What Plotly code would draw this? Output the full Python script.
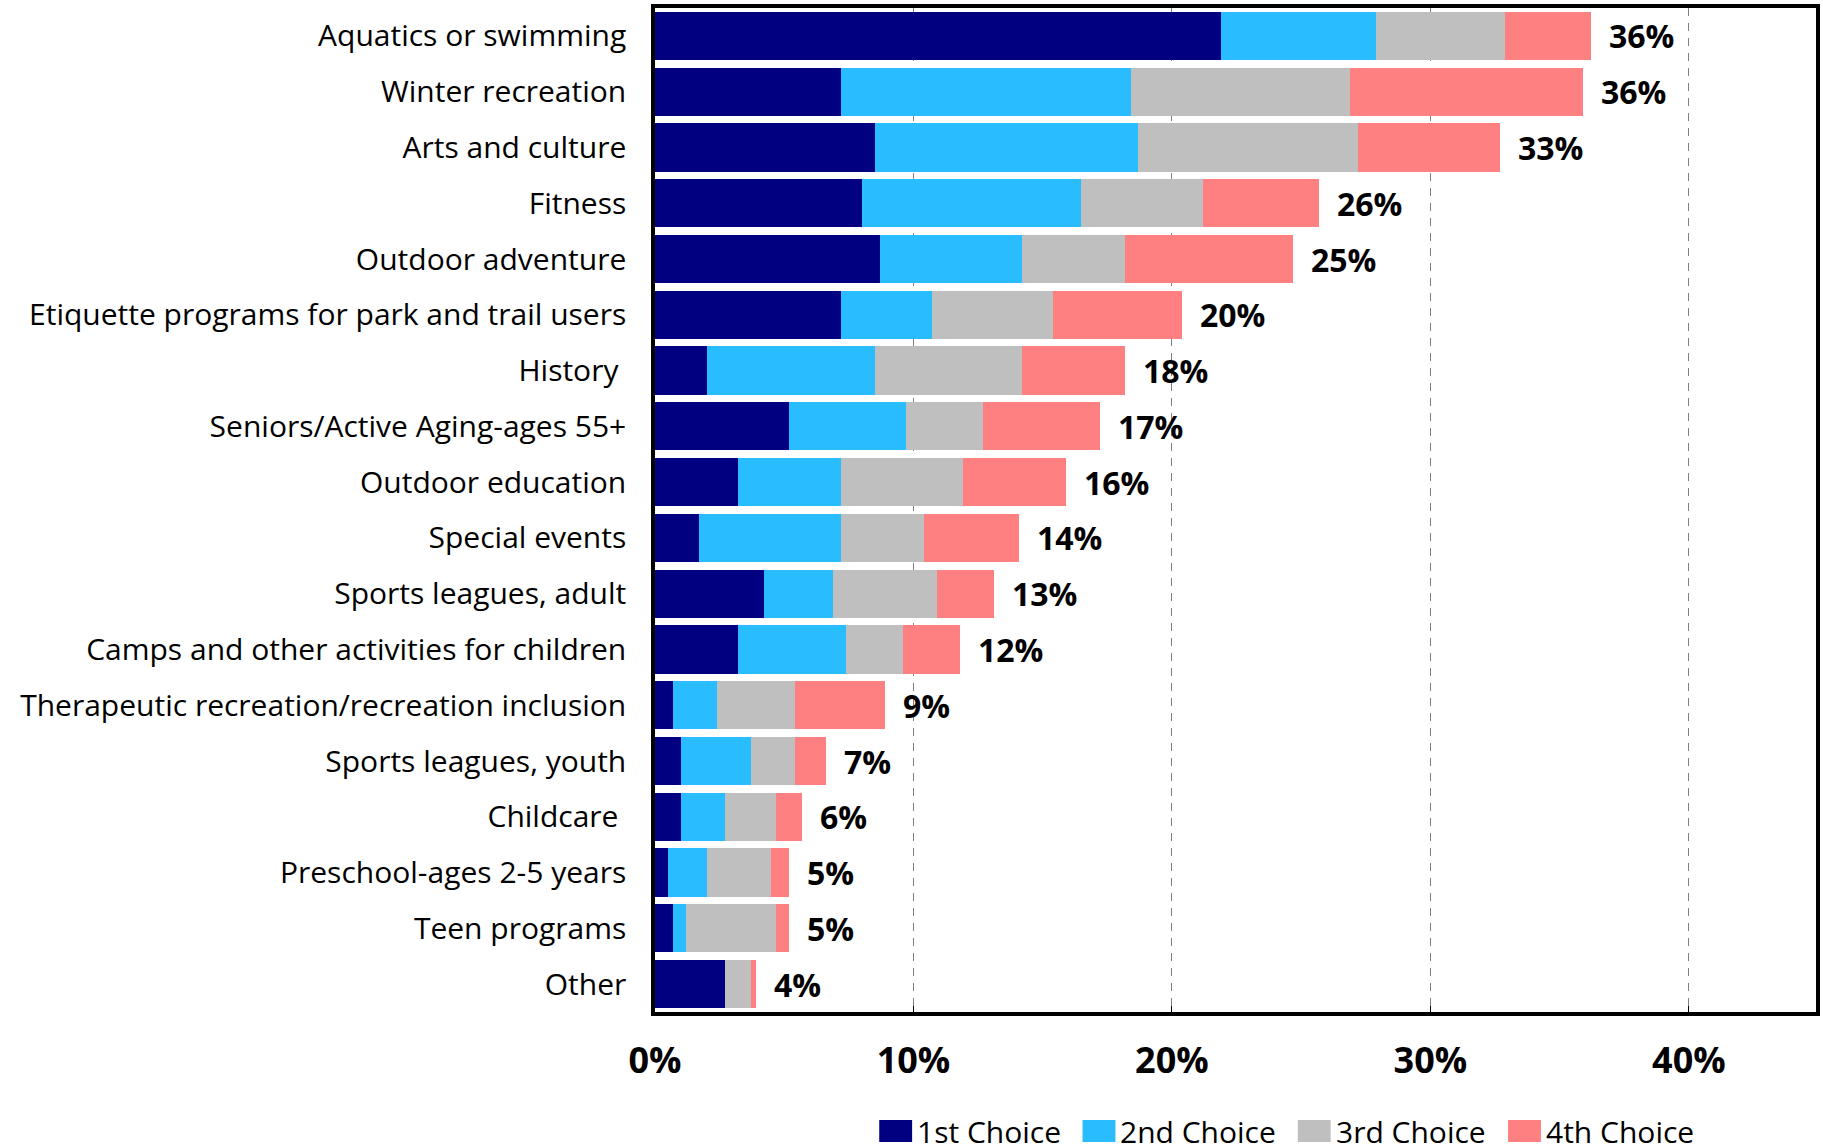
import plotly.graph_objects as go

categories = [
    "Aquatics or swimming",
    "Winter recreation",
    "Arts and culture",
    "Fitness",
    "Outdoor adventure",
    "Etiquette programs for park and trail users",
    "History ",
    "Seniors/Active Aging-ages 55+",
    "Outdoor education",
    "Special events",
    "Sports leagues, adult",
    "Camps and other activities for children",
    "Therapeutic recreation/recreation inclusion",
    "Sports leagues, youth",
    "Childcare ",
    "Preschool-ages 2-5 years",
    "Teen programs",
    "Other",
]

first_choice = [21.9, 7.2, 8.5, 8.0, 8.7, 7.2, 2.0, 5.2, 3.2, 1.7, 4.2, 3.2, 0.7, 1.0, 1.0, 0.5, 0.7, 2.7]
second_choice = [6.0, 11.2, 10.2, 8.5, 5.5, 3.5, 6.5, 4.5, 4.0, 5.5, 2.7, 4.2, 1.7, 2.7, 1.7, 1.5, 0.5, 0.0]
third_choice = [5.0, 8.5, 8.5, 4.7, 4.0, 4.7, 5.7, 3.0, 4.7, 3.2, 4.0, 2.2, 3.0, 1.7, 2.0, 2.5, 3.5, 1.0]
fourth_choice = [3.3, 9.0, 5.5, 4.5, 6.5, 5.0, 4.0, 4.5, 4.0, 3.7, 2.2, 2.2, 3.5, 1.2, 1.0, 0.7, 0.5, 0.2]

series_names = ["1st Choice", "2nd Choice", "3rd Choice", "4th Choice"]
series_values = [first_choice, second_choice, third_choice, fourth_choice]
series_colors = ["#000080", "#29BCFF", "#BFBFBF", "#FF8080"]

x_tick_values = [0, 10, 20, 30, 40]
x_tick_labels = ["0%", "10%", "20%", "30%", "40%"]

totals = [sum(v) for v in zip(*series_values)]
total_labels = [f"{round(t):.0f}%" for t in totals]

FONT = "Open Sans"
W, H = 1823, 1147
ML, MR, MT, MB = 655, 3, 8, 135
PW, PH = W - ML - MR, H - MT - MB

fig = go.Figure()
for name, vals, col in zip(series_names, series_values, series_colors):
    fig.add_trace(go.Bar(
        y=categories, x=vals, name=name, orientation="h",
        marker=dict(color=col, line=dict(width=0)),
        showlegend=False, hoverinfo="x+y+name",
    ))

for cat, tot, lab in zip(categories, totals, total_labels):
    fig.add_annotation(
        x=tot, y=cat, text=f"<b>{lab}</b>", showarrow=False,
        xanchor="left", yanchor="middle", xshift=16,
        font=dict(family=FONT, size=32, color="#000000"),
    )

# manual legend (large square keys, as in the reference); page pixel positions
legend_px = [880, 1084, 1300, 1511]
def px_to_paper_x(px):
    return (px - ML) / PW
def py_to_paper_y(py):
    return (H - MB - py) / PH

for name, col, lx in zip(series_names, series_colors, legend_px):
    fig.add_shape(
        type="rect", xref="paper", yref="paper",
        x0=px_to_paper_x(lx), x1=px_to_paper_x(lx + 33),
        y0=py_to_paper_y(1142), y1=py_to_paper_y(1120),
        fillcolor=col, line=dict(width=0), layer="above",
    )
    fig.add_annotation(
        xref="paper", yref="paper",
        x=px_to_paper_x(lx + 36), y=py_to_paper_y(1131),
        text=name, showarrow=False, xanchor="left", yanchor="middle",
        font=dict(family=FONT, size=30, color="#000000"),
    )

fig.update_layout(
    width=W, height=H,
    margin=dict(l=ML, r=MR, t=MT, b=MB, pad=0),
    barmode="stack", bargap=0.134,
    plot_bgcolor="white", paper_bgcolor="white",
    font=dict(family=FONT, color="#000000"),
    showlegend=False,
)

fig.update_xaxes(
    range=[0, 44.92], tickvals=x_tick_values, ticktext=x_tick_labels,
    showgrid=True, gridcolor="#808080", gridwidth=1.2, griddash="8px,7px",
    showline=True, linecolor="#000000", linewidth=3.5, mirror=True,
    ticks="inside", ticklen=6, tickcolor="#000000", tickwidth=1,
    zeroline=False,
    tickfont=dict(family=FONT, size=36, color="#000000", weight="bold"),
    ticklabelstandoff=14,
)
fig.update_yaxes(
    categoryorder="array", categoryarray=categories, autorange="reversed",
    showline=True, linecolor="#000000", linewidth=3.5, mirror=True,
    showgrid=False, ticks="", zeroline=False,
    tickfont=dict(family=FONT, size=30, color="#000000"),
    ticklabelstandoff=19,
)

fig.write_html(
    "out.html",
    config={"displayModeBar": False},
    post_script="document.body.style.margin='0';",
)
